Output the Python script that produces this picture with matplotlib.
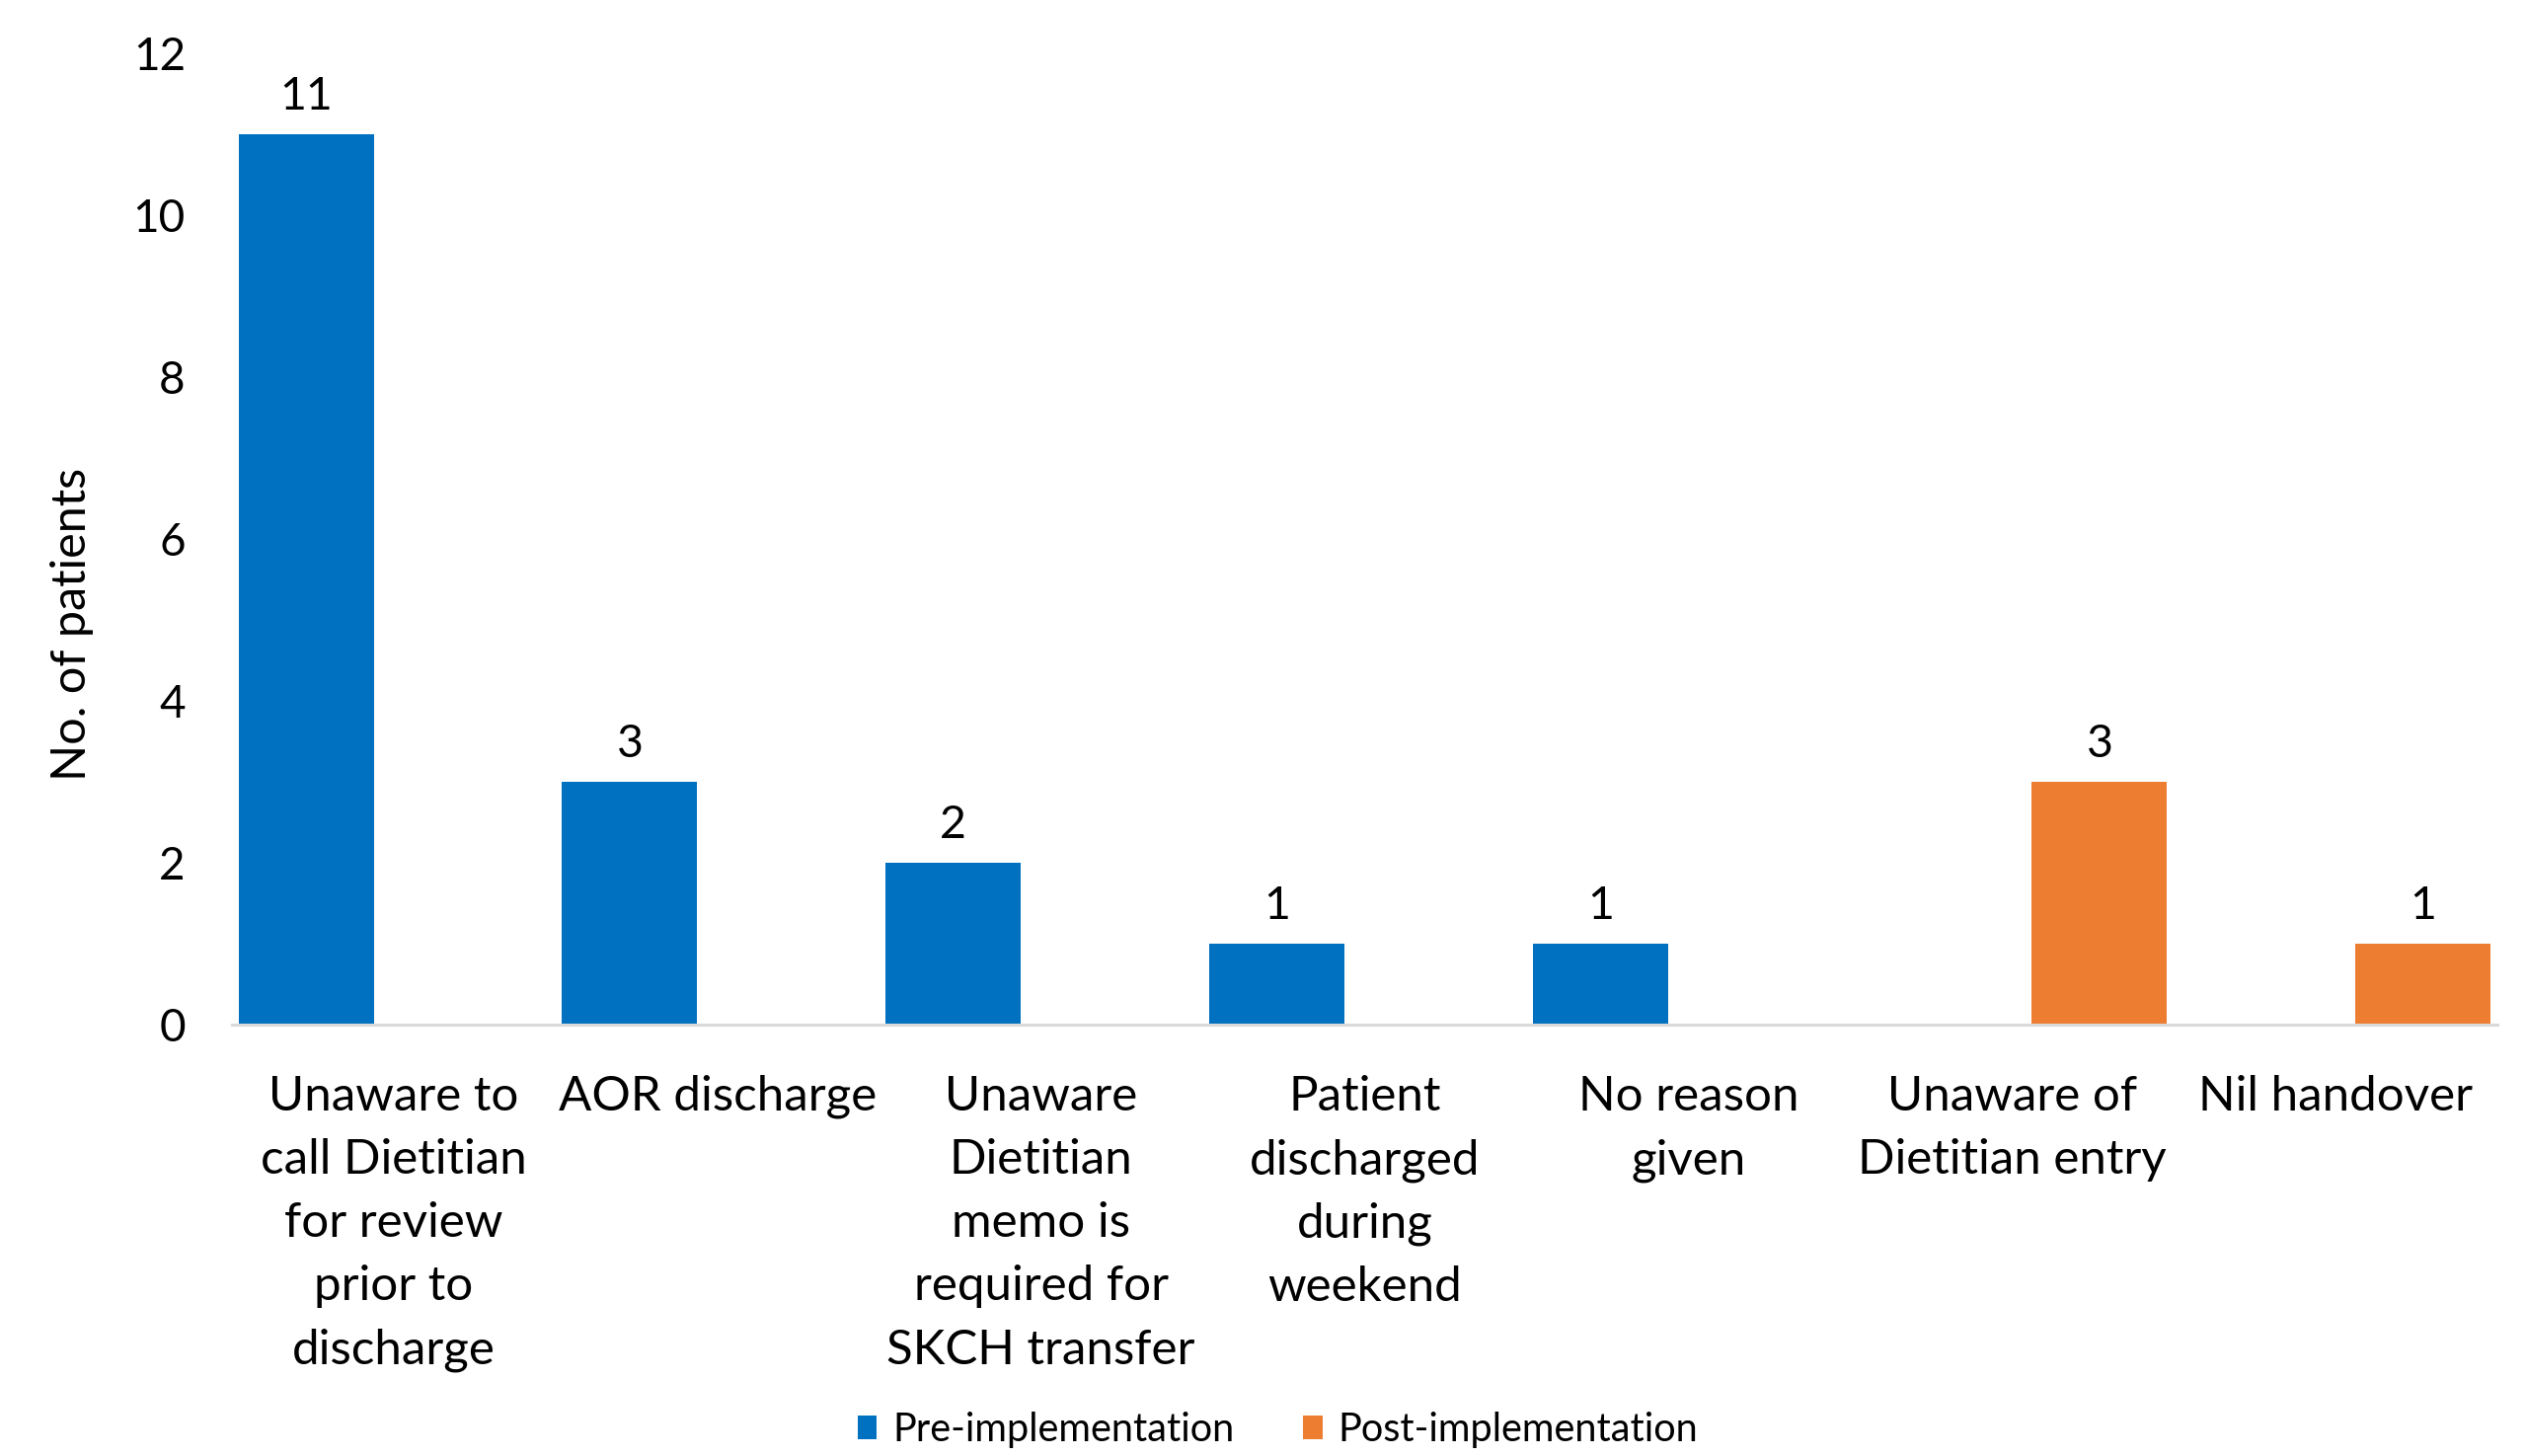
import matplotlib
matplotlib.use("Agg")
import matplotlib.pyplot as plt
import numpy as np

categories = [
    "Unaware to\ncall Dietitian\nfor review\nprior to\ndischarge",
    "AOR discharge",
    "Unaware\nDietitian\nmemo is\nrequired for\nSKCH transfer",
    "Patient\ndischarged\nduring\nweekend",
    "No reason\ngiven",
    "Unaware of\nDietitian entry",
    "Nil handover",
]
pre_values = [11, 3, 2, 1, 1, None, None]
post_values = [None, None, None, None, None, 3, 1]
series_names = ["Pre-implementation", "Post-implementation"]
y_ticks = [0, 2, 4, 6, 8, 10, 12]

BLUE = "#0070C0"
ORANGE = "#ED7D31"
FONT = ["Lato", "DejaVu Sans"]
plt.rcParams["font.family"] = FONT

fig = plt.figure(figsize=(25.58, 14.75), dpi=100)
ax = fig.add_axes([0.0919, 0.2966, 0.8971, 0.6668])

x = np.arange(len(categories))
width = 0.418
offset = 0.271

def clean(vals):
    return [np.nan if v is None else v for v in vals]

pre = clean(pre_values)
post = clean(post_values)
b1 = ax.bar(x - offset, pre, width, color=BLUE, label=series_names[0])
b2 = ax.bar(x + offset, post, width, color=ORANGE, label=series_names[1])

for bars, vals in ((b1, pre_values), (b2, post_values)):
    for rect, v in zip(bars, vals):
        if v is None:
            continue
        ax.annotate(str(v), (rect.get_x() + rect.get_width() / 2, v),
                    xytext=(0, 12), textcoords="offset points",
                    ha="center", va="bottom", fontsize=33.5, color="black")

ax.set_xlim(-0.5, len(categories) - 0.5)
ax.set_ylim(0, 12)
ax.set_yticks(y_ticks)
ax.set_yticklabels([str(t) for t in y_ticks], fontsize=33)
ax.set_xticks(x)
ax.set_xticklabels(categories, fontsize=35.5, linespacing=1.56)
ax.tick_params(axis="both", length=0)
ax.tick_params(axis="x", pad=37)
ax.tick_params(axis="y", pad=34)

for s in ("top", "right", "left"):
    ax.spines[s].set_visible(False)
ax.spines["bottom"].set_color("#D9D9D9")
ax.spines["bottom"].set_linewidth(2.2)

fig.text(0.0284, 0.571, "No. of patients", rotation=90, ha="center", va="center", fontsize=35)

leg = fig.legend(handles=[b1, b2], labels=series_names, loc="center",
                 bbox_to_anchor=(0.506, 0.0177), ncol=2, frameon=False,
                 fontsize=28.5, handlelength=0.5, handleheight=0.55,
                 handletextpad=0.4, columnspacing=1.75)

fig.savefig("out.png", dpi=100)
